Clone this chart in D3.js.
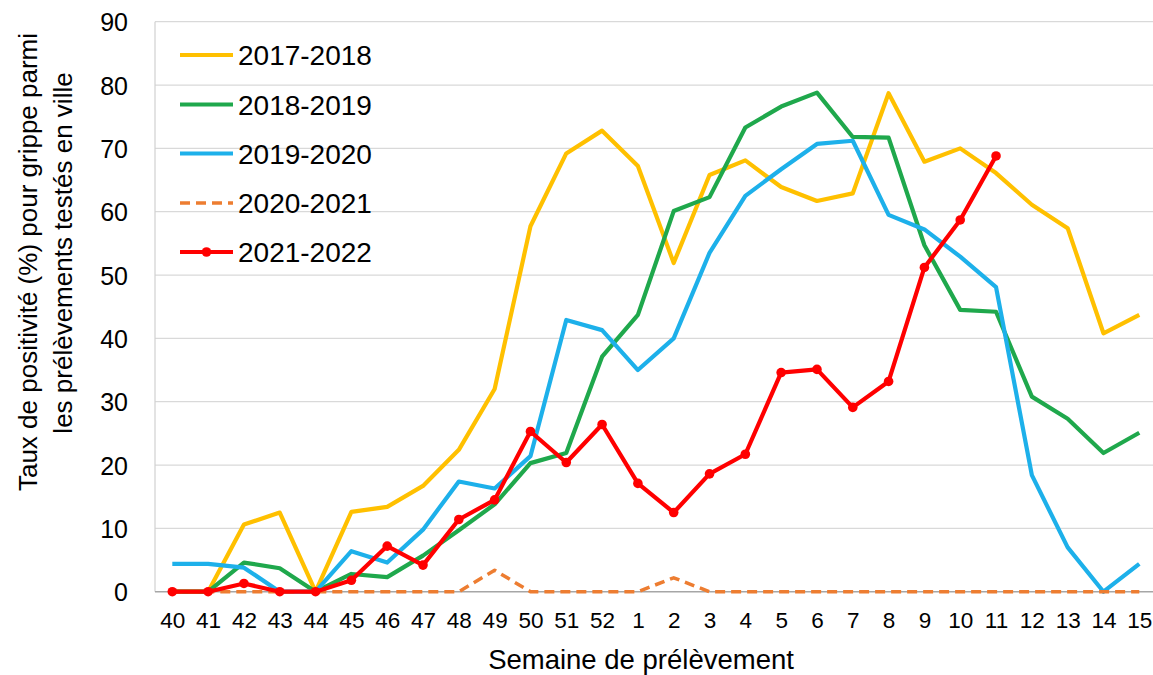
<!DOCTYPE html>
<html>
<head>
<meta charset="utf-8">
<script src="https://cdn.jsdelivr.net/npm/d3@7"></script>
<style>
  html, body { margin: 0; padding: 0; background: #fff; }
  svg { display: block; font-family: "Liberation Sans", Arial, sans-serif; }
</style>
</head>
<body>
<svg id="chart" width="1153" height="675"></svg>
<script>
const weeks = ["40","41","42","43","44","45","46","47","48","49","50","51","52","1","2","3","4","5","6","7","8","9","10","11","12","13","14","15"];
const yTicks = [0,10,20,30,40,50,60,70,80,90];

const s2017 = [0,0,10.6,12.5,0,12.6,13.4,16.7,22.4,32,57.7,69.2,72.8,67.2,51.9,65.8,68.1,63.9,61.7,62.9,78.7,67.9,70.0,66.1,61.1,57.4,40.8,43.7];
const s2018 = [0,0,4.6,3.7,0,2.8,2.3,5.7,9.7,13.8,20.3,21.9,37.1,43.7,60.1,62.3,73.3,76.6,78.8,71.8,71.7,54.7,44.5,44.2,30.8,27.3,21.9,25.1];
const s2019 = [4.4,4.4,3.8,0,0,6.4,4.6,9.8,17.4,16.3,21.4,42.9,41.3,35.0,40.0,53.5,62.5,66.7,70.7,71.2,59.5,57.2,52.9,48.1,18.4,7.0,0,4.4];
const s2020 = [0,0,0,0,0,0,0,0,0,3.4,0,0,0,0,2.2,0,0,0,0,0,0,0,0,0,0,0,0,0];
const s2021 = [0,0,1.3,0,0,1.8,7.2,4.2,11.4,14.5,25.3,20.4,26.4,17.1,12.5,18.6,21.7,34.6,35.1,29.1,33.2,51.2,58.7,68.8,null,null,null,null];

const seriesNames = ["2017-2018","2018-2019","2019-2020","2020-2021","2021-2022"];
const seriesValues = [s2017, s2018, s2019, s2020, s2021];
const seriesColors = ["#FFC000","#1FA84C","#1DB0EA","#ED7D31","#FF0000"];

const svg = d3.select("#chart");
const pLeft = 155, pRight = 1153, pTop = 21.7, pBottom = 591.7;

const x = d3.scalePoint().domain(weeks).range([154.4, 1157.2]).padding(0.5);
const y = d3.scaleLinear().domain([0, 90]).range([pBottom, pTop]);

// gridlines
svg.append("g").selectAll("line").data(yTicks.filter(d => d > 0)).join("line")
  .attr("x1", pLeft).attr("x2", pRight)
  .attr("y1", d => y(d)).attr("y2", d => y(d))
  .attr("stroke", "#d9d9d9").attr("stroke-width", 1.2);

// y axis line
svg.append("line").attr("x1", pLeft).attr("x2", pLeft).attr("y1", pTop).attr("y2", pBottom)
  .attr("stroke", "#d0d0d0").attr("stroke-width", 1.2);

// zero line
svg.append("line").attr("x1", pLeft).attr("x2", pRight).attr("y1", y(0)).attr("y2", y(0))
  .attr("stroke", "#a6a6a6").attr("stroke-width", 1.5);

// y tick labels
const yAxis = d3.axisLeft(y).tickValues(yTicks).tickSize(0).tickPadding(0).tickFormat(d3.format("d"));
const gy = svg.append("g").attr("transform", "translate(128,0)").call(yAxis);
gy.select(".domain").remove();
gy.selectAll("text").attr("font-size", 25).attr("fill", "#000").attr("font-family", "Liberation Sans, Arial, sans-serif").attr("dy", "0.36em");

// x tick labels
const xAxis = d3.axisBottom(x).tickSize(0).tickPadding(0);
const gx = svg.append("g").attr("transform", "translate(0,612)").call(xAxis);
gx.select(".domain").remove();
gx.selectAll("text").attr("font-size", 22.5).attr("fill", "#000").attr("font-family", "Liberation Sans, Arial, sans-serif").attr("dy", "0.71em");

// lines
const line = d3.line().defined(d => d.v !== null).x(d => x(d.w)).y(d => y(d.v));
seriesValues.forEach((vals, i) => {
  const data = vals.map((v, j) => ({w: weeks[j], v: v}));
  svg.append("path").datum(data)
    .attr("d", line)
    .attr("fill", "none")
    .attr("stroke", seriesColors[i])
    .attr("stroke-width", i === 3 ? 3.5 : 4.2)
    .attr("stroke-linejoin", "round")
    .attr("stroke-dasharray", i === 3 ? "10,6" : null);
  if (i === 4) {
    svg.append("g").selectAll("circle").data(data.filter(d => d.v !== null)).join("circle")
      .attr("cx", d => x(d.w)).attr("cy", d => y(d.v)).attr("r", 4.8)
      .attr("fill", seriesColors[i]);
  }
});

// legend
const legY = [55, 104.5, 153.5, 203, 252];
const leg = svg.append("g");
seriesNames.forEach((name, i) => {
  leg.append("line").attr("x1", 180).attr("x2", 233).attr("y1", legY[i]).attr("y2", legY[i])
    .attr("stroke", seriesColors[i]).attr("stroke-width", i === 3 ? 3.5 : 4.2)
    .attr("stroke-dasharray", i === 3 ? "10,6" : null);
  if (i === 4) {
    leg.append("circle").attr("cx", 206.5).attr("cy", legY[i]).attr("r", 4.8).attr("fill", seriesColors[i]);
  }
  leg.append("text").attr("x", 238).attr("y", legY[i]).attr("dy", "0.36em")
    .attr("font-size", 28).attr("fill", "#000").text(name);
});

// axis titles
svg.append("text").attr("x", 641).attr("y", 669).attr("text-anchor", "middle")
  .attr("font-size", 27.5).attr("fill", "#000").text("Semaine de prélèvement");

svg.append("text").attr("transform", "translate(37,262) rotate(-90)").attr("text-anchor", "middle")
  .attr("font-size", 26).attr("fill", "#000").text("Taux de positivité (%) pour grippe parmi");
svg.append("text").attr("transform", "translate(72,253) rotate(-90)").attr("text-anchor", "middle")
  .attr("font-size", 26).attr("fill", "#000").text("les prélèvements testés en ville");
</script>
</body>
</html>
